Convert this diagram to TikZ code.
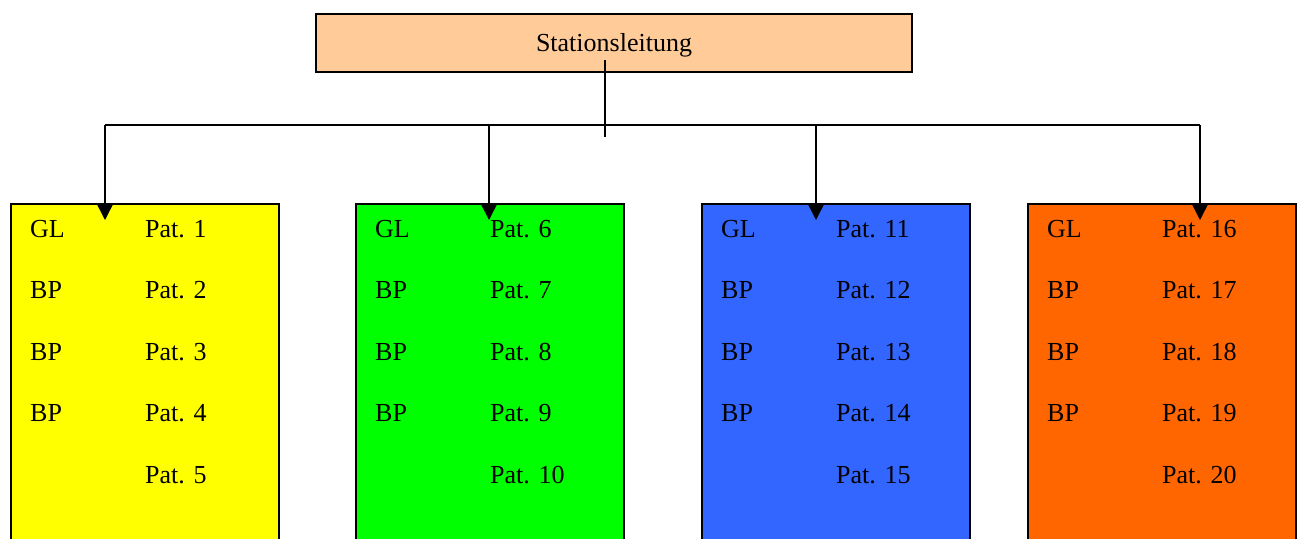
\documentclass[tikz,border=0pt]{standalone}
\usepackage{fontspec}
\setmainfont{Liberation Serif}
\usetikzlibrary{arrows.meta}

\definecolor{leitungfarbe}{HTML}{FFCC99}
\definecolor{teamgelb}{HTML}{FFFF00}
\definecolor{teamgruen}{HTML}{00FF00}
\definecolor{teamblau}{HTML}{3366FF}
\definecolor{teamorange}{HTML}{FF6600}

\tikzset{
  kasten/.style={draw=black, line width=1.6pt, rectangle, inner sep=0pt},
  teambox/.style={kasten, anchor=north west, minimum width=268pt, minimum height=400pt},
  eintrag/.style={anchor=base west, inner sep=0pt, font=\fontsize{26}{30}\selectfont},
  pfeil/.style={line width=1.4pt, -{Triangle[width=15pt,length=15pt]}}
}

\begin{document}
\begin{tikzpicture}[x=1pt,y=-1pt]
        \clip (0,0) rectangle (1298,538);

        % Head of the ward
        \node[kasten, fill=leitungfarbe, minimum width=596pt, minimum height=58pt] (leitung) at (614,43) {};
        \node[eintrag, anchor=base] (titel) at (614,51) {Stationsleitung};
        \coordinate (stamm) at (605,60);
        \coordinate (stammende) at (605,137);
        \draw[line width=1.4pt] (stamm) -- (stammende);

        % Teams with their patients
        \foreach \farbe/\links/\pfeilx/\n [count=\i] in
            {teamgelb/10/105/1, teamgruen/355/489/6, teamblau/701/816/11, teamorange/1027/1200/16} {
            \node[teambox, fill=\farbe] (team\i) at (\links,203) {};
            \node[eintrag] (gl\i) at (\links+20,237) {GL};
            \foreach \r in {1,2,3}
                \node[eintrag] (bp\i\r) at (\links+20,237+61.5*\r) {BP};
            \foreach \r in {0,...,4} {
                \pgfmathtruncatemacro\nr{\n+\r}
                \node[eintrag] (pat\nr) at (\links+135,237+61.5*\r) {Pat. \nr};
            }
            \coordinate (bus\i) at (\pfeilx,125);
            \coordinate (ziel\i) at (\pfeilx,220);
        }

        % Connecting line and arrows
        \draw[line width=1.4pt] (bus1) -- (bus4);
        \foreach \i in {1,...,4}
            \draw[pfeil] (bus\i) -- (ziel\i);
\end{tikzpicture}
\end{document}
